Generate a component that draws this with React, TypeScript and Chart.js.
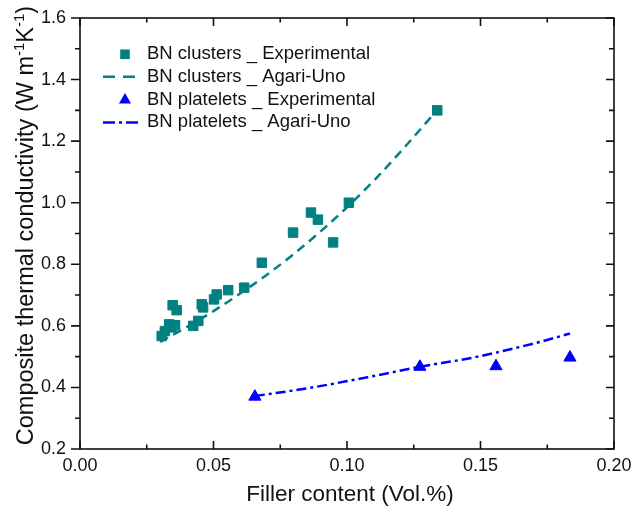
import React, { useEffect, useRef } from "react";
import { Chart, registerables } from "chart.js";

Chart.register(...registerables);

// ---- Data ----
const clusterExpX = [0.0306, 0.0318, 0.0334, 0.0343, 0.0356, 0.0347, 0.0362, 0.0424, 0.0443, 0.0456, 0.0461, 0.0502, 0.0512, 0.0555, 0.0615, 0.0681, 0.0798, 0.0865, 0.0891, 0.0948, 0.1007, 0.1338];
const clusterExpY = [0.567, 0.583, 0.605, 0.595, 0.602, 0.667, 0.651, 0.600, 0.616, 0.670, 0.660, 0.686, 0.702, 0.716, 0.724, 0.805, 0.903, 0.968, 0.945, 0.871, 1.000, 1.300];

const clusterModelX = [0.030, 0.040, 0.050, 0.060, 0.070, 0.080, 0.090, 0.100, 0.110, 0.120, 0.1337];
const clusterModelY = [0.548, 0.596, 0.648, 0.705, 0.766, 0.833, 0.906, 0.985, 1.071, 1.165, 1.300];

const plateletExpX = [0.0655, 0.1273, 0.1558, 0.1835];
const plateletExpY = [0.370, 0.467, 0.469, 0.497];

const plateletModelX = [0.0655, 0.085, 0.110, 0.1273, 0.1473, 0.1558, 0.1723, 0.1835];
const plateletModelY = [0.372, 0.397, 0.437, 0.467, 0.497, 0.513, 0.548, 0.575];

const xTickLabels = ["0.00", "0.05", "0.10", "0.15", "0.20"];
const yTickLabels = ["0.2", "0.4", "0.6", "0.8", "1.0", "1.2", "1.4", "1.6"];

const legendLabels = [
  "BN clusters _ Experimental",
  "BN clusters _ Agari-Uno",
  "BN platelets _ Experimental",
  "BN platelets _ Agari-Uno",
];
const xTitle = "Filler content (Vol.%)";
const yTitleParts: [string, boolean][] = [
  ["Composite thermal conductivity (W m", false],
  ["-1", true],
  ["K", false],
  ["-1", true],
  [")", false],
];

const TEAL = "#008080";
const BLUE = "#0000ff";
const INK = "#111111";
const FONT = "'Liberation Sans', Arial, Helvetica, sans-serif";

const zip = (xs: number[], ys: number[]) => xs.map((x, i) => ({ x, y: ys[i] }));

const zeroPad = (s: any) => {
  s.paddingTop = 0;
  s.paddingBottom = 0;
  s.paddingLeft = 0;
  s.paddingRight = 0;
};

const framePlugin = {
  id: "frameAndDecor",
  beforeDatasetsDraw(chart: any) {
    const { ctx, chartArea: a, scales } = chart;
    const xs = scales.x;
    const ys = scales.y;
    ctx.save();
    ctx.strokeStyle = INK;
    ctx.lineWidth = 1.6;
    ctx.strokeRect(a.left, a.top, a.right - a.left, a.bottom - a.top);
    ctx.beginPath();
    for (let i = 0; i <= 8; i++) {
      const px = xs.getPixelForValue(i * 0.025);
      const len = i % 2 === 0 ? 8 : 4.5;
      ctx.moveTo(px, a.bottom);
      ctx.lineTo(px, a.bottom - len);
      ctx.moveTo(px, a.top);
      ctx.lineTo(px, a.top + len);
    }
    for (let i = 0; i <= 14; i++) {
      const py = ys.getPixelForValue(0.2 + i * 0.1);
      const major = i % 2 === 0;
      ctx.moveTo(a.left, py);
      ctx.lineTo(a.left - (major ? 9 : 5), py);
      ctx.moveTo(a.right, py);
      ctx.lineTo(a.right - (major ? 8 : 5), py);
    }
    ctx.stroke();
    ctx.restore();
  },
  afterDraw(chart: any) {
    const { ctx, chartArea: a } = chart;
    ctx.save();
    ctx.fillStyle = INK;

    // X title
    ctx.font = `22.5px ${FONT}`;
    ctx.textAlign = "center";
    ctx.textBaseline = "alphabetic";
    ctx.fillText(xTitle, (a.left + a.right) / 2 + 3, 501);

    // Y title with superscripts
    const mainFont = `23.5px ${FONT}`;
    const supFont = `15px ${FONT}`;
    let total = 0;
    const widths = yTitleParts.map(([t, sup]) => {
      ctx.font = sup ? supFont : mainFont;
      const w = ctx.measureText(t).width;
      total += w;
      return w;
    });
    ctx.translate(33, (a.top + a.bottom) / 2 - 8);
    ctx.rotate(-Math.PI / 2);
    ctx.textAlign = "left";
    let x = -total / 2;
    yTitleParts.forEach(([t, sup], i) => {
      ctx.font = sup ? supFont : mainFont;
      ctx.fillText(t, x, sup ? -9.5 : 0);
      x += widths[i];
    });
    ctx.setTransform(1, 0, 0, 1, 0, 0);

    // Legend
    const rowCaps = [a.top + 34.5, a.top + 57, a.top + 80.3, a.top + 102.7];
    const mx = a.left + 45;
    const tx = a.left + 67;
    ctx.font = `18.5px ${FONT}`;
    ctx.textAlign = "left";
    ctx.textBaseline = "alphabetic";
    rowCaps.forEach((cy, i) => {
      ctx.fillStyle = INK;
      ctx.fillText(legendLabels[i], tx, cy + 6.6);
      const my = cy + 1.8;
      if (i === 0) {
        ctx.fillStyle = TEAL;
        ctx.fillRect(mx - 4.8, my - 4.8, 9.6, 9.6);
      } else if (i === 2) {
        ctx.fillStyle = BLUE;
        const r = 7;
        ctx.beginPath();
        ctx.moveTo(mx, my - r);
        ctx.lineTo(mx + r * 0.866, my + r / 2);
        ctx.lineTo(mx - r * 0.866, my + r / 2);
        ctx.closePath();
        ctx.fill();
      } else {
        ctx.strokeStyle = i === 1 ? TEAL : BLUE;
        ctx.lineWidth = 2.5;
        ctx.setLineDash(i === 1 ? [12, 8] : [12, 4, 3, 4]);
        ctx.beginPath();
        ctx.moveTo(a.left + 23, my);
        ctx.lineTo(a.left + (i === 1 ? 55 : 62), my);
        ctx.stroke();
        ctx.setLineDash([]);
      }
    });
    ctx.restore();
  },
};

export default function App() {
  const canvasRef = useRef<HTMLCanvasElement | null>(null);

  useEffect(() => {
    const canvas = canvasRef.current;
    if (!canvas) return;
    const chart = new Chart(canvas, {
      type: "scatter",
      data: {
        datasets: [
          {
            label: legendLabels[0],
            data: zip(clusterExpX, clusterExpY),
            pointStyle: "rect",
            pointRadius: 6.7,
            backgroundColor: TEAL,
            borderColor: TEAL,
            borderWidth: 1,
            showLine: false,
          },
          {
            label: legendLabels[1],
            data: zip(clusterModelX, clusterModelY),
            showLine: true,
            borderColor: TEAL,
            borderWidth: 2.5,
            borderDash: [9, 6],
            pointRadius: 0,
            cubicInterpolationMode: "monotone",
            fill: false,
          },
          {
            label: legendLabels[2],
            data: zip(plateletExpX, plateletExpY),
            pointStyle: "triangle",
            pointRadius: 7,
            backgroundColor: BLUE,
            borderColor: BLUE,
            borderWidth: 1,
            showLine: false,
          },
          {
            label: legendLabels[3],
            data: zip(plateletModelX, plateletModelY),
            showLine: true,
            borderColor: BLUE,
            borderWidth: 2.5,
            borderDash: [10, 4, 3, 4],
            pointRadius: 0,
            cubicInterpolationMode: "monotone",
            fill: false,
          },
        ],
      } as any,
      options: {
        responsive: false,
        animation: false,
        devicePixelRatio: 1,
        events: [],
        layout: { autoPadding: false, padding: { top: 18, right: 19, left: 0, bottom: 0 } },
        plugins: { legend: { display: false }, tooltip: { enabled: false } },
        scales: {
          x: {
            type: "linear",
            min: 0,
            max: 0.2,
            grid: { display: false, drawTicks: false },
            border: { display: false },
            ticks: {
              stepSize: 0.05,
              maxRotation: 0,
              autoSkip: false,
              padding: 6,
              color: INK,
              font: { family: FONT, size: 18 },
              callback: (_v: any, i: number) => xTickLabels[i],
            },
            afterFit: (s: any) => {
              s.height = 61;
              zeroPad(s);
            },
          },
          y: {
            type: "linear",
            min: 0.2,
            max: 1.6,
            grid: { display: false, drawTicks: false },
            border: { display: false },
            ticks: {
              stepSize: 0.2,
              autoSkip: false,
              padding: 14,
              color: INK,
              font: { family: FONT, size: 18 },
              callback: (_v: any, i: number) => yTickLabels[i],
            },
            afterFit: (s: any) => {
              s.width = 80;
              zeroPad(s);
            },
          },
        },
      } as any,
      plugins: [framePlugin],
    });
    return () => chart.destroy();
  }, []);

  return (
    <div style={{ position: "absolute", left: 0, top: 0, width: 633, height: 510, background: "#fff" }}>
      <canvas ref={canvasRef} width={633} height={510} style={{ display: "block" }} />
    </div>
  );
}
